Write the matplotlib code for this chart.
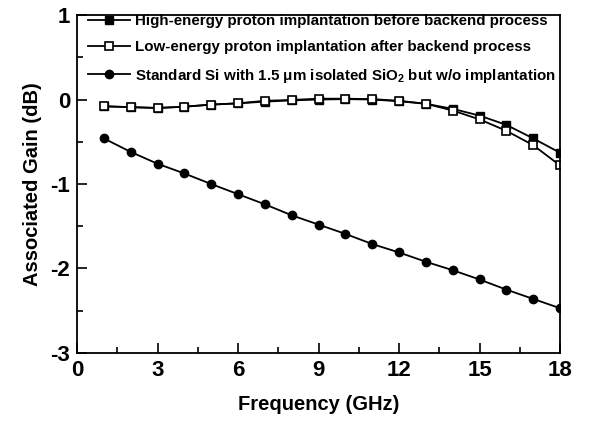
import numpy as np
import matplotlib
matplotlib.use("Agg")
import matplotlib.pyplot as plt
from matplotlib.ticker import MultipleLocator

plt.rcParams['font.family'] = ['Liberation Sans', 'DejaVu Sans']
plt.rcParams['font.weight'] = 'bold'
plt.rcParams['mathtext.default'] = 'regular'
plt.rcParams['axes.unicode_minus'] = False

# frequency points (GHz)
freq = [1, 2, 3, 4, 5, 6, 7, 8, 9, 10, 11, 12, 13, 14, 15, 16, 17, 18]

# high-energy proton implantation before backend process
gain_high = [-0.08, -0.09, -0.10, -0.085, -0.06, -0.045, -0.025, -0.01, 0.0,
             0.005, 0.0, -0.02, -0.05, -0.11, -0.19, -0.30, -0.46, -0.63]
# low-energy proton implantation after backend process
gain_low = [-0.08, -0.09, -0.10, -0.085, -0.06, -0.045, -0.015, -0.005, 0.01,
            0.01, 0.005, -0.015, -0.05, -0.13, -0.235, -0.37, -0.54, -0.78]
# standard Si, no implantation
gain_std = [-0.46, -0.62, -0.76, -0.875, -1.0, -1.12, -1.24, -1.37, -1.48,
            -1.59, -1.71, -1.81, -1.92, -2.02, -2.13, -2.25, -2.36, -2.47]

labels = ["High-energy proton implantation before backend process",
          "Low-energy proton implantation after backend process",
          "Standard Si with 1.5 $\\mu$m isolated SiO$_2$ but w/o implantation"]

fig = plt.figure(figsize=(6.03, 4.24), dpi=100)
ax = fig.add_axes([0.1277, 0.1675, 0.801, 0.797])

ax.plot(freq, gain_high, color='black', lw=1.3, marker='s', ms=5.5,
        mfc='black', mec='black', label=labels[0])
ax.plot(freq, gain_low, color='black', lw=1.3, marker='s', ms=5.5,
        mfc='white', mec='black', mew=1.2, label=labels[1])
ax.plot(freq, gain_std, color='black', lw=1.3, marker='o', ms=6,
        mfc='black', mec='black', label=labels[2])

ax.set_xlim(0, 18)
ax.set_ylim(-3, 1)
ax.xaxis.set_major_locator(MultipleLocator(3))
ax.xaxis.set_minor_locator(MultipleLocator(1.5))
ax.yaxis.set_major_locator(MultipleLocator(1))
ax.yaxis.set_minor_locator(MultipleLocator(0.5))
ax.tick_params(which='both', direction='in', top=False, right=False, width=1.2)
ax.tick_params(which='major', length=7, labelsize=16, pad=5)
ax.tick_params(which='minor', length=4)
for s in ax.spines.values():
    s.set_linewidth(1.3)

ax.set_xlabel("Frequency (GHz)", fontsize=14.5, fontweight='bold', labelpad=10)
ax.set_ylabel("Associated Gain (dB)", fontsize=14.5, fontweight='bold', labelpad=6)

leg = ax.legend(loc='upper left', frameon=False, fontsize=10.9, handlelength=2.8,
                handletextpad=0.3, labelspacing=0.8, borderaxespad=0.0,
                bbox_to_anchor=(0.01, 1.02))
for t in leg.get_texts():
    t.set_fontweight('bold')

fig.savefig("out.png", dpi=100)
